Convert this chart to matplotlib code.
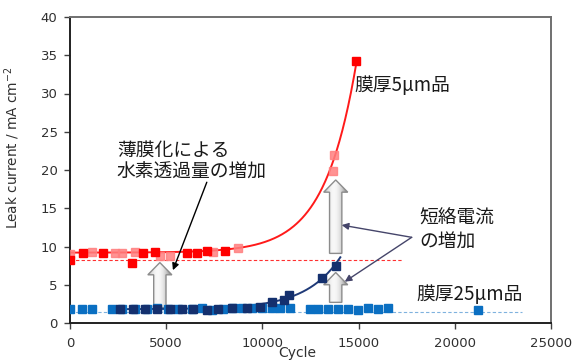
import numpy as np
import matplotlib
matplotlib.use("Agg")
import matplotlib.pyplot as plt
from matplotlib.patches import Polygon

plt.rcParams['font.family'] = ['DejaVu Sans', 'Noto Sans CJK JP']
JP = ['Noto Sans CJK JP', 'DejaVu Sans']

# 5 um membrane, two cells
red_x = np.array([0, 675, 1710, 3200, 3800, 4400, 6070, 6590, 7110, 8050, 14850])
red_y = np.array([8.3, 9.2, 9.1, 7.9, 9.2, 9.3, 9.2, 9.1, 9.4, 9.4, 34.3])
pink_x = np.array([0, 1140, 2340, 2700, 3370, 4670, 5190, 7420, 8720, 13650, 13700])
pink_y = np.array([9.0, 9.3, 9.2, 9.2, 9.3, 8.7, 8.8, 9.3, 9.8, 19.9, 22.0])

# 25 um membrane, two cells
blue_x = np.array([0, 620, 1140, 2180, 2700, 3370, 4000, 4520, 5090, 5610, 6330,
                   6850, 7370, 7940, 8460, 8930, 9450, 9970, 10490, 10900, 11420,
                   12460, 12880, 13400, 13910, 14430, 14950, 15470, 15990, 16510, 21180])
blue_y = np.array([1.8, 1.8, 1.8, 1.8, 1.8, 1.8, 1.8, 1.9, 1.8, 1.8, 1.8,
                   1.9, 1.7, 1.8, 1.9, 1.9, 1.9, 2.0, 2.0, 1.9, 1.9,
                   1.8, 1.8, 1.8, 1.8, 1.8, 1.7, 1.9, 1.8, 1.9, 1.7])
navy_x = np.array([2600, 3300, 3900, 4500, 5190, 5800, 6400, 7100, 7700, 8400,
                   9200, 9900, 10500, 11100, 11400, 13100, 13800])
navy_y = np.array([1.8, 1.8, 1.8, 1.8, 1.85, 1.8, 1.8, 1.7, 1.8, 1.9,
                   2.0, 2.1, 2.7, 3.0, 3.6, 5.9, 7.45])

# initial leak levels
red_level = 8.3
blue_level = 1.45

x_ticks = [0, 5000, 10000, 15000, 20000, 25000]
y_ticks = [0, 5, 10, 15, 20, 25, 30, 35, 40]


def exp_trend(xs, ys, flat_until, x_from, x_to):
    # baseline + exponential rise fitted on the points above the baseline
    base = np.median(ys[xs < flat_until])
    rise = ys - base
    keep = rise > 0.5
    k, c = np.polyfit(xs[keep], np.log(rise[keep]), 1)
    xx = np.linspace(x_from, x_to, 300)
    return xx, base + np.exp(c + k * xx)


def block_arrow(ax, x, y0, y1, shaft=640, head=1250, head_len=1.6):
    pts = [(x - shaft / 2, y0), (x + shaft / 2, y0), (x + shaft / 2, y1 - head_len),
           (x + head / 2, y1 - head_len), (x, y1), (x - head / 2, y1 - head_len),
           (x - shaft / 2, y1 - head_len)]
    poly = Polygon(pts, closed=True, facecolor='none', edgecolor='#8c8c8c',
                   lw=1.0, zorder=1.6)
    ax.add_patch(poly)
    # cylinder-like shading, light just left of centre, darker at the sides
    g = np.linspace(-1, 1, 64) + 0.2
    shade = np.clip(0.55 + 0.42 * (1 - g ** 2), 0, 1)
    img = np.tile(shade, (8, 1))
    im = ax.imshow(img, cmap='gray', vmin=0, vmax=1, aspect='auto',
                   extent=(x - head / 2, x + head / 2, y0, y1), zorder=1.5,
                   interpolation='bilinear')
    im.set_clip_path(poly)


fig = plt.figure(figsize=(5.87, 3.61), dpi=100)
ax = fig.add_axes([70 / 587, 38 / 361, 481 / 587, 306 / 361])

all_red_x = np.concatenate([red_x, pink_x])
all_red_y = np.concatenate([red_y, pink_y])
rx, ry = exp_trend(all_red_x, all_red_y, 8000, 0, red_x.max())
nx, ny = exp_trend(navy_x, navy_y, 10000, navy_x.min(), 14050)

ax.plot([0, 17300], [red_level, red_level], ls=(0, (3, 2)), color='#ff3030', lw=0.8, zorder=1)
ax.plot([0, 23500], [blue_level, blue_level], ls=(0, (3, 2)), color='#7fb2de', lw=0.8, zorder=1)

block_arrow(ax, 4670, 2.0, 7.9)
block_arrow(ax, 13810, 9.1, 18.7)
block_arrow(ax, 13810, 2.7, 6.6)

ax.plot(rx, ry, color='#ff1a1a', lw=1.4, zorder=2)
ax.plot(nx, ny, color='#1f3a78', lw=1.4, zorder=2)

ax.plot(pink_x, pink_y, 's', color='#ff8080', ms=6.3, alpha=0.85, zorder=3)
ax.plot(red_x, red_y, 's', color='#ff0000', ms=6.3, zorder=3)
ax.plot(blue_x, blue_y, 's', color='#0a6fc2', ms=6.3, zorder=3)
ax.plot(navy_x, navy_y, 's', color='#14306e', ms=6.3, zorder=3)

ax.set_xlim(0, 25000)
ax.set_ylim(0, 40)
ax.set_xticks(x_ticks)
ax.set_yticks(y_ticks)
ax.tick_params(direction='out', length=4, width=1, colors='#404040',
               labelsize=9.5, labelcolor='#303030')
ax.tick_params(axis='y', pad=5)
ax.tick_params(axis='x', pad=6)
for s in ['left', 'bottom']:
    ax.spines[s].set_color('#202020')
    ax.spines[s].set_linewidth(1.4)
for s in ['top', 'right']:
    ax.spines[s].set_color('#707070')
    ax.spines[s].set_linewidth(1.4)

ax.set_ylabel('Leak current / mA cm$^{-2}$', fontsize=9.8, color='#303030')
ax.yaxis.set_label_coords(-48 / 481, 0.572)
fig.text(297 / 587, 0.5 / 361, 'Cycle', fontsize=10, color='#303030',
         ha='center', va='bottom')

txt = dict(family=JP, fontsize=13.5, color='#1a1a1a', va='center', ha='left')
ax.text(2440, 22.6, '薄膜化による', **txt)
ax.text(2440, 19.7, '水素透過量の増加', **txt)
ax.text(18170, 13.7, '短絡電流', **txt)
ax.text(18170, 10.5, 'の増加', **txt)
ax.text(14800, 31.1, '膜厚5μm品', **txt)
ax.text(18020, 3.7, '膜厚25μm品', **txt)

ax.annotate('', xy=(5350, 6.9), xytext=(7110, 18.4),
            arrowprops=dict(arrowstyle='-|>', color='black', lw=1.0,
                            mutation_scale=10, shrinkA=0, shrinkB=0), zorder=4)
for tip in [(14120, 12.8), (14280, 5.4)]:
    ax.annotate('', xy=tip, xytext=(17760, 11.2),
                arrowprops=dict(arrowstyle='-|>', color='#45456a', lw=1.0,
                                mutation_scale=10, shrinkA=0, shrinkB=0), zorder=4)

fig.savefig('out.png', dpi=100)
